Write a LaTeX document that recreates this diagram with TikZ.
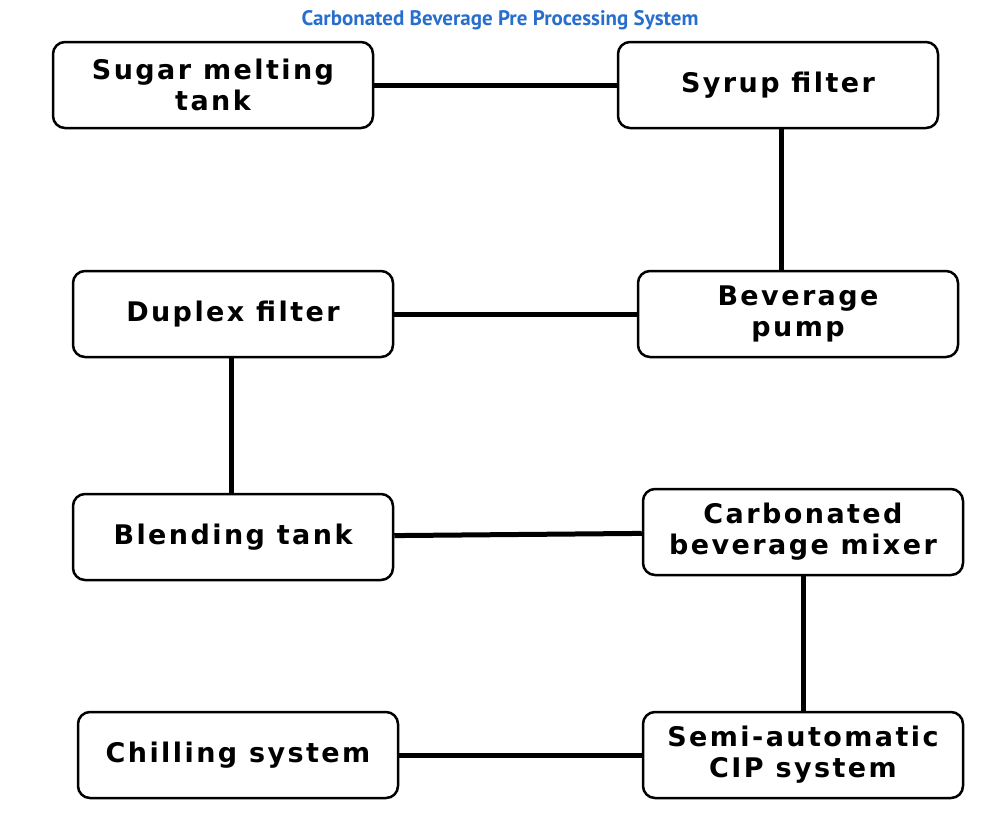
\documentclass[tikz,border=0pt]{standalone}
\usepackage{fontspec}
\setmainfont{DejaVu Sans}[LetterSpace=9]
\newfontfamily\titlefont{PT Sans}
\definecolor{titleblue}{RGB}{40,110,205}
\begin{document}
\begin{tikzpicture}[x=1pt,y=-1pt,
    box/.style={draw,line width=2.5pt,rounded corners=12pt,minimum width=320pt,minimum height=86pt,
      align=center,font=\bfseries\fontsize{27}{31}\selectfont,inner sep=0pt},
    link/.style={line width=5pt}]
    \useasboundingbox (0,0) rectangle (1000,822);
    \node[font=\titlefont\bfseries\fontsize{21}{24}\selectfont,text=titleblue] (title) at (500,20) {Carbonated Beverage Pre Processing System};
    \node[box] (sugar) at (213,85) {Sugar melting\\tank};
    \node[box] (syrup) at (778,85) {Syrup filter};
    \node[box] (duplex) at (233,314) {Duplex filter};
    \node[box] (pump) at (798,314) {Beverage\\pump};
    \node[box] (blend) at (233,537) {Blending tank};
    \node[box] (mixer) at (803,532) {Carbonated\\beverage mixer};
    \node[box] (chill) at (238,755) {Chilling system};
    \node[box] (cip) at (803,755) {Semi-automatic\\CIP system};
    \draw[link] (sugar) -- (syrup);
    \draw[link] ([xshift=3pt]syrup.south) -- ([xshift=3pt]syrup.south |- pump.north);
    \draw[link] (duplex) -- (pump);
    \draw[link] ([xshift=-2pt]duplex.south) -- ([xshift=-2pt]duplex.south |- blend.north);
    \draw[link] (blend) -- (mixer);
    \draw[link] (mixer) -- (cip);
    \draw[link] (chill) -- (cip);
\end{tikzpicture}
\end{document}
